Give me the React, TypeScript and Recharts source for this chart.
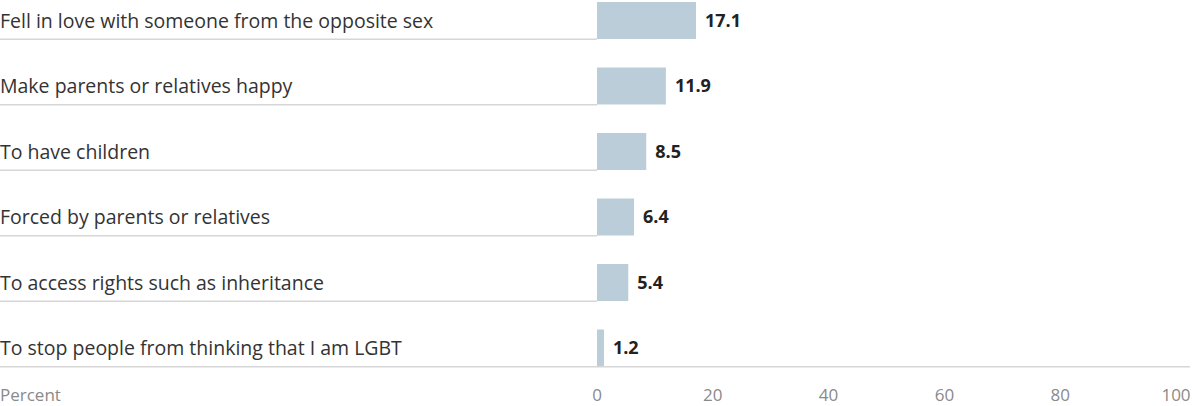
import { Bar, BarChart, LabelList, XAxis, YAxis } from "recharts";

const reasons = [
  "Fell in love with someone from the opposite sex",
  "Make parents or relatives happy",
  "To have children",
  "Forced by parents or relatives",
  "To access rights such as inheritance",
  "To stop people from thinking that I am LGBT",
];
const percents = [17.1, 11.9, 8.5, 6.4, 5.4, 1.2];
const xTicks = [0, 20, 40, 60, 80, 100];

const data = reasons.map((reason, i) => ({ reason, value: percents[i] }));

const FONT = "'Open Sans', sans-serif";
const BAR_SIZE = 37;

const ReasonTick = ({ y, payload, index }: any) => {
  const lineY = y + BAR_SIZE / 2;
  const isLast = index === reasons.length - 1;
  return (
    <g>
      <text
        x={0}
        y={y}
        dy="0.35em"
        textAnchor="start"
        fontFamily={FONT}
        fontSize={19.5}
        fill="#333"
      >
        {payload.value}
      </text>
      <line
        x1={0}
        x2={isLast ? 1190 : 597}
        y1={lineY}
        y2={lineY}
        stroke="#d6d6d6"
        strokeWidth={1.5}
      />
    </g>
  );
};

const PercentTick = ({ x, y, payload, index }: any) => (
  <g>
    {index === 0 && (
      <text
        x={0}
        y={y}
        dy="0.71em"
        fontFamily={FONT}
        fontSize={17}
        fill="#8a8a8a"
      >
        Percent
      </text>
    )}
    <text
      x={x}
      y={y}
      dy="0.71em"
      textAnchor="middle"
      fontFamily={FONT}
      fontSize={17}
      fill="#8a8a8a"
    >
      {payload.value}
    </text>
  </g>
);

export default function App() {
  return (
    <div style={{ position: "absolute", left: 0, top: 0, background: "#fff" }}>
      <BarChart
        width={1192}
        height={406}
        layout="vertical"
        data={data}
        margin={{ top: -12, right: 16, bottom: 0, left: 0 }}
        barSize={BAR_SIZE}
      >
        <XAxis
          type="number"
          domain={[0, 100]}
          ticks={xTicks}
          axisLine={false}
          tickLine={false}
          height={25}
          tick={<PercentTick />}
        />
        <YAxis
          type="category"
          dataKey="reason"
          width={597}
          axisLine={false}
          tickLine={false}
          tick={<ReasonTick />}
        />
        <Bar dataKey="value" fill="#bacdd8" isAnimationActive={false}>
          <LabelList
            dataKey="value"
            position="right"
            offset={9}
            fontFamily={FONT}
            fontSize={18}
            fontWeight="bold"
            fill="#222"
          />
        </Bar>
      </BarChart>
    </div>
  );
}
